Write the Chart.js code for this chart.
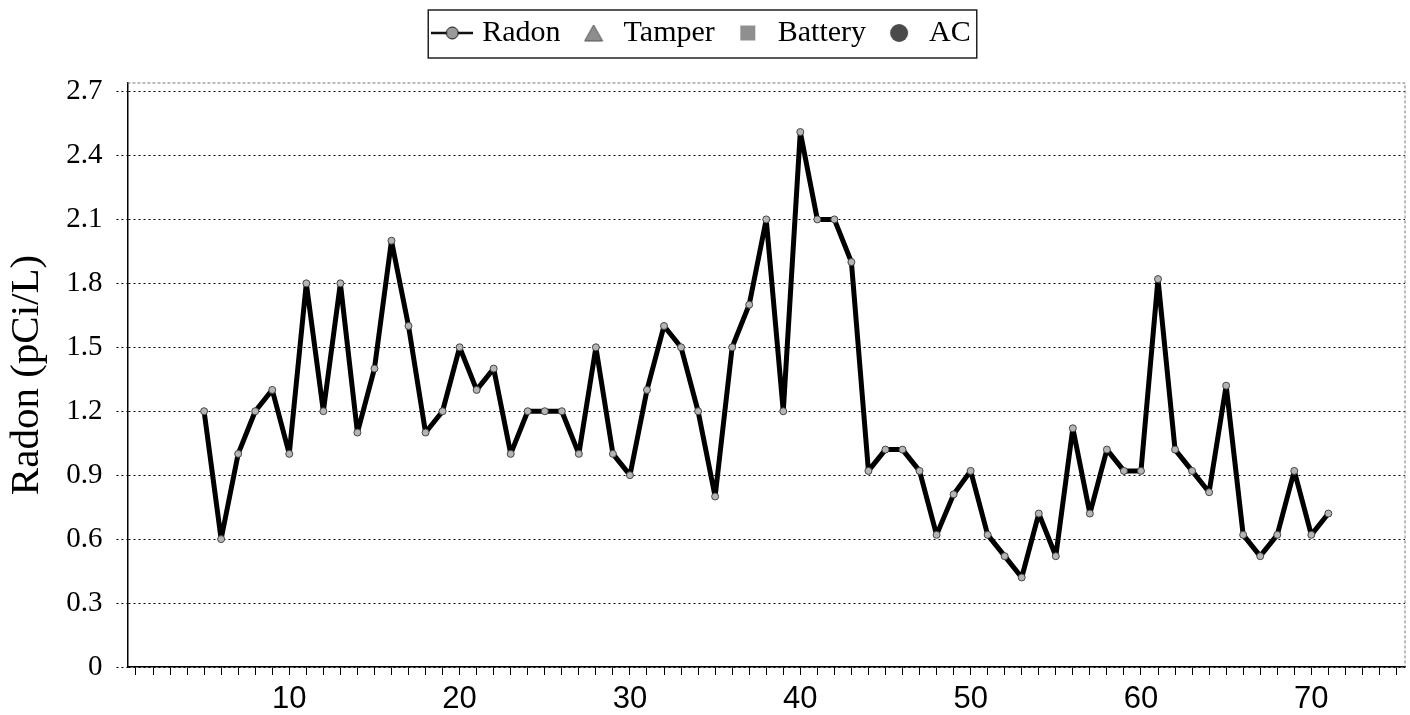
<!DOCTYPE html>
<html>
<head>
<meta charset="utf-8">
<title>Radon</title>
<script src="https://cdn.jsdelivr.net/npm/chart.js@4.4.1/dist/chart.umd.min.js"></script>
<style>
    html, body { margin: 0; padding: 0; background: #fff; }
    #wrap { width: 1410px; height: 715px; }
</style>
</head>
<body>
<div id="wrap"><canvas id="radonChart" width="1410" height="715"></canvas></div>
<script>
// readings, one per hour
const hours = [5, 6, 7, 8, 9, 10, 11, 12, 13, 14, 15, 16, 17, 18, 19, 20, 21, 22, 23, 24,
    25, 26, 27, 28, 29, 30, 31, 32, 33, 34, 35, 36, 37, 38, 39, 40, 41, 42, 43, 44,
    45, 46, 47, 48, 49, 50, 51, 52, 53, 54, 55, 56, 57, 58, 59, 60, 61, 62, 63, 64,
    65, 66, 67, 68, 69, 70, 71];
const radon = [1.2, 0.6, 1.0, 1.2, 1.3, 1.0, 1.8, 1.2, 1.8, 1.1, 1.4, 2.0, 1.6, 1.1, 1.2, 1.5, 1.3, 1.4, 1.0, 1.2,
    1.2, 1.2, 1.0, 1.5, 1.0, 0.9, 1.3, 1.6, 1.5, 1.2, 0.8, 1.5, 1.7, 2.1, 1.2, 2.51, 2.1, 2.1, 1.9, 0.92,
    1.02, 1.02, 0.92, 0.62, 0.81, 0.92, 0.62, 0.52, 0.42, 0.72, 0.52, 1.12, 0.72, 1.02, 0.92, 0.92, 1.82, 1.02, 0.92, 0.82,
    1.32, 0.62, 0.52, 0.62, 0.92, 0.62, 0.72];
const tamper = [];
const battery = [];
const ac = [];

const seriesNames = ['Radon', 'Tamper', 'Battery', 'AC'];
const yTicks = [0, 0.3, 0.6, 0.9, 1.2, 1.5, 1.8, 2.1, 2.4, 2.7];
const xTickLabels = [10, 20, 30, 40, 50, 60, 70];

function toPoints(xs, ys) {
    return ys.map((y, i) => ({ x: xs[i], y: y }));
}

function markerCanvas(w, h, draw) {
    const c = document.createElement('canvas');
    c.width = w;
    c.height = h;
    draw(c.getContext('2d'), w, h);
    return c;
}

// legend symbols
const legendMarks = [
    markerCanvas(42, 16, (g, w, h) => {
        g.strokeStyle = '#111';
        g.lineWidth = 2.5;
        g.beginPath(); g.moveTo(0, h / 2); g.lineTo(w, h / 2); g.stroke();
        g.fillStyle = '#9a9a9a';
        g.lineWidth = 1;
        g.beginPath(); g.arc(w / 2, h / 2, 6, 0, Math.PI * 2); g.fill(); g.stroke();
    }),
    markerCanvas(20, 18, (g, w, h) => {
        g.fillStyle = '#8d8d8d';
        g.strokeStyle = '#555';
        g.lineWidth = 1;
        g.beginPath(); g.moveTo(w / 2, 1); g.lineTo(w - 1, h - 1); g.lineTo(1, h - 1); g.closePath();
        g.fill(); g.stroke();
    }),
    markerCanvas(17, 17, (g, w, h) => {
        g.fillStyle = '#8f8f8f';
        g.fillRect(1, 1, w - 2, h - 2);
    }),
    markerCanvas(20, 20, (g, w, h) => {
        g.fillStyle = '#4a4a4a';
        g.beginPath(); g.arc(w / 2, h / 2, 9, 0, Math.PI * 2); g.fill();
    })
];

// extra room between legend and plot
const legendGap = {
    id: 'legendGap',
    beforeInit(chart) {
        const fit = chart.legend.fit;
        chart.legend.fit = function () {
            fit.bind(chart.legend)();
            this.height += 25;
        };
    }
};

const frameBox = {
    id: 'frameBox',
    afterDraw(chart) {
        const ctx = chart.ctx;
        const a = chart.chartArea;
        ctx.save();
        // dashed top and right edge of the plot
        ctx.strokeStyle = '#777';
        ctx.lineWidth = 1;
        ctx.setLineDash([3, 2]);
        ctx.beginPath();
        ctx.moveTo(a.left, a.top);
        ctx.lineTo(a.right, a.top);
        ctx.lineTo(a.right, a.bottom);
        ctx.stroke();
        ctx.setLineDash([]);
        // box round the legend
        const boxes = chart.legend.legendHitBoxes;
        if (boxes && boxes.length) {
            const l = Math.min(...boxes.map(b => b.left)) - 9;
            const r = Math.max(...boxes.map(b => b.left + b.width)) + 6;
            const t = Math.min(...boxes.map(b => b.top)) - 8;
            const bt = Math.max(...boxes.map(b => b.top + b.height)) + 10;
            ctx.strokeStyle = '#222';
            ctx.lineWidth = 1.5;
            ctx.strokeRect(l, t, r - l, bt - t);
        }
        ctx.restore();
    }
};

const ctx = document.getElementById('radonChart').getContext('2d');

new Chart(ctx, {
    type: 'line',
    data: {
        datasets: [
            {
                label: seriesNames[0],
                data: toPoints(hours, radon),
                borderColor: '#000',
                borderWidth: 5,
                borderJoinStyle: 'round',
                fill: false,
                tension: 0,
                pointRadius: 3.5,
                pointBackgroundColor: '#b5b5b5',
                pointBorderColor: '#444',
                pointBorderWidth: 1
            },
            { label: seriesNames[1], data: toPoints(hours, tamper), pointStyle: 'triangle' },
            { label: seriesNames[2], data: toPoints(hours, battery), pointStyle: 'rect' },
            { label: seriesNames[3], data: toPoints(hours, ac), pointStyle: 'circle' }
        ]
    },
    options: {
        responsive: false,
        animation: false,
        layout: {
            padding: { left: 3, right: 5, top: 0, bottom: -9 }
        },
        scales: {
            x: {
                type: 'linear',
                min: 0.5,
                max: 75.5,
                afterBuildTicks: (axis) => {
                    const t = [];
                    for (let v = 1; v <= 75; v++) t.push({ value: v });
                    axis.ticks = t;
                },
                ticks: {
                    autoSkip: false,
                    maxRotation: 0,
                    padding: 9,
                    color: '#000',
                    font: { family: '"Liberation Sans Narrow", "Liberation Sans", sans-serif', size: 31, lineHeight: 1 },
                    callback: (v) => xTickLabels.includes(v) ? String(v) : ''
                },
                grid: {
                    drawOnChartArea: false,
                    tickLength: 8,
                    tickColor: '#000',
                    tickWidth: 1
                },
                border: { color: '#000', width: 1.5 }
            },
            y: {
                min: 0,
                max: 2.74,
                afterBuildTicks: (axis) => {
                    axis.ticks = yTicks.map(v => ({ value: v }));
                },
                ticks: {
                    padding: 14,
                    color: '#000',
                    font: { family: '"Liberation Serif", serif', size: 29 },
                    callback: (v) => v === 0 ? '0' : v.toFixed(1)
                },
                grid: {
                    color: '#000',
                    lineWidth: 1,
                    tickLength: 11,
                    tickColor: '#000',
                    tickBorderDash: [2, 3]
                },
                border: { color: '#000', width: 1.5, dash: [2, 3] },
                title: {
                    display: true,
                    text: 'Radon (pCi/L)',
                    color: '#000',
                    font: { family: '"Liberation Serif", serif', size: 41 },
                    padding: { top: 0, bottom: 0 }
                }
            }
        },
        plugins: {
            legend: {
                display: true,
                position: 'top',
                labels: {
                    usePointStyle: true,
                    padding: 18,
                    color: '#000',
                    font: { family: '"Liberation Serif", serif', size: 30 },
                    generateLabels: (chart) => chart.data.datasets.map((ds, i) => ({
                        text: ds.label,
                        datasetIndex: i,
                        pointStyle: legendMarks[i],
                        fillStyle: 'transparent',
                        strokeStyle: 'transparent',
                        lineWidth: 0,
                        fontColor: '#000',
                        hidden: false
                    }))
                }
            },
            tooltip: { enabled: false }
        }
    },
    plugins: [legendGap, frameBox]
});
</script>
</body>
</html>
